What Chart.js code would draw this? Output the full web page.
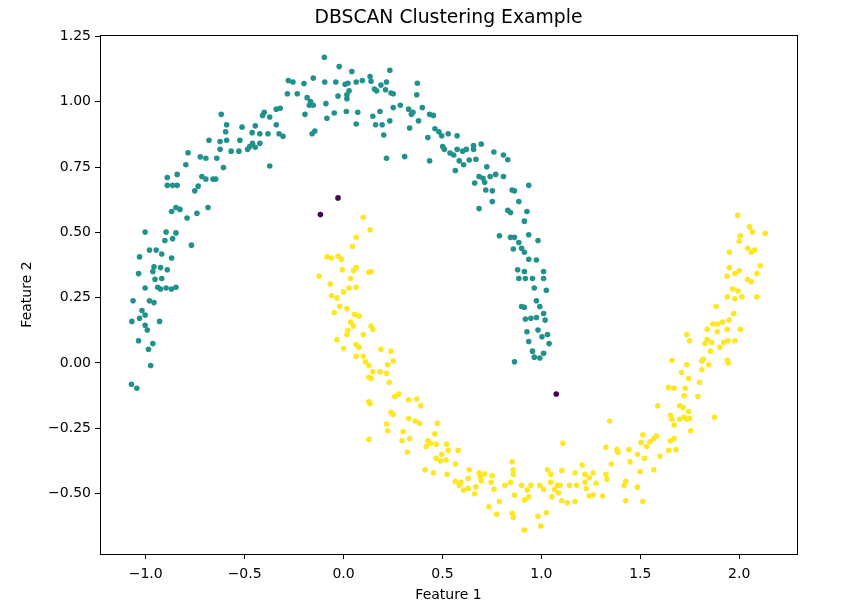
<!DOCTYPE html>
<html>
<head>
<meta charset="utf-8">
<title>DBSCAN Clustering Example</title>
<script src="https://cdn.jsdelivr.net/npm/chart.js@4.4.1/dist/chart.umd.min.js"></script>
<style>
    html, body { margin: 0; padding: 0; background: #fff; }
    #chart { display: block; }
</style>
</head>
<body>
<canvas id="chart" width="865" height="609"></canvas>
<script>
// Cluster 0 (upper moon) as [x, y]
const upperMoon = [
    [-1.072,-0.082],[-1.045,-0.097],[-0.975,-0.010],[-0.986,0.052],[-0.964,0.074],[-1.036,0.085],
    [-0.930,0.159],[-0.992,0.126],[-1.003,0.144],[-1.070,0.159],[-1.031,0.171],[-1.003,0.183],
    [-1.019,0.201],[-1.064,0.238],[-0.981,0.238],[-0.958,0.231],[-1.003,0.287],[-0.939,0.290],
    [-0.925,0.283],[-0.897,0.287],[-0.870,0.283],[-0.847,0.290],[-0.953,0.320],[-0.919,0.323],
    [-0.964,0.350],[-0.958,0.368],[-0.925,0.365],[-0.891,0.357],[-0.869,0.402],[-1.036,0.342],
    [-1.031,0.406],[-0.981,0.432],[-0.947,0.432],[-0.919,0.417],[-0.903,0.469],[-0.864,0.476],
    [-0.847,0.498],[-0.897,0.501],[-1.003,0.501],[-0.769,0.451],[-0.869,0.580],[-0.847,0.595],
    [-0.827,0.588],[-0.791,0.555],[-0.741,0.573],[-0.685,0.595],[-0.752,0.659],[-0.735,0.677],
    [-0.696,0.704],[-0.716,0.714],[-0.891,0.680],[-0.864,0.680],[-0.841,0.680],[-0.891,0.710],
    [-0.841,0.722],[-0.797,0.759],[-0.724,0.789],[-0.696,0.784],[-0.660,0.704],[-0.646,0.704],
    [-0.607,0.748],[-0.641,0.784],[-0.568,0.811],[-0.786,0.805],[-0.680,0.853],[-0.624,0.848],
    [-0.624,0.818],[-0.591,0.853],[-0.524,0.853],[-0.529,0.811],[-0.513,0.903],[-0.485,0.818],
    [-0.474,0.829],[-0.460,0.841],[-0.446,0.826],[-0.423,0.841],[-0.446,0.908],[-0.462,0.882],
    [-0.382,0.878],[-0.373,0.754],[-0.596,0.885],[-0.618,0.952],[-0.591,0.912],[-0.423,0.878],
    [-0.401,0.960],[-0.409,0.948],[-0.373,0.942],[-0.326,0.878],[-0.306,0.868],[-0.340,0.912],
    [-0.340,0.972],[-0.320,0.975],[-0.284,1.031],[-0.279,1.082],[-0.256,1.076],[-0.234,1.031],
    [-0.200,1.070],[-0.184,1.016],[-0.173,0.987],[-0.195,0.952],[-0.167,1.001],[-0.153,0.987],
    [-0.153,1.091],[-0.145,0.888],[-0.159,0.878],[-0.097,1.171],[-0.089,0.993],[-0.084,0.937],
    [-0.095,1.076],[-0.047,0.957],[-0.039,1.076],[-0.028,1.022],[-0.022,1.135],[0.008,1.067],
    [0.017,1.012],[0.017,1.027],[0.022,1.071],[0.028,1.042],[0.014,0.963],[0.042,1.116],
    [0.064,1.076],[0.064,0.915],[0.072,0.960],[0.095,1.082],[0.134,1.097],[0.139,1.079],
    [0.156,1.049],[0.167,1.042],[0.189,1.064],[0.217,1.076],[0.234,1.121],[0.240,1.034],
    [0.251,1.031],[0.212,1.046],[0.148,0.945],[0.162,0.912],[0.184,0.963],[0.195,0.912],
    [0.203,0.873],[0.234,0.927],[0.251,0.978],[0.287,0.987],[0.217,0.784],[0.309,0.790],
    [0.329,0.972],[0.343,0.952],[0.334,0.900],[0.351,0.960],[0.373,1.071],[0.370,1.027],
    [0.379,0.927],[0.398,0.978],[0.435,0.952],[0.454,0.948],[0.426,0.863],[0.435,0.774],
    [0.462,0.897],[0.482,0.885],[0.496,0.870],[0.501,0.829],[0.510,0.818],[0.529,0.878],
    [0.538,0.804],[0.557,0.796],[0.574,0.870],[0.574,0.818],[0.585,0.774],[0.565,0.737],
    [0.602,0.811],[0.607,0.759],[0.621,0.818],[0.635,0.777],[0.657,0.818],[0.657,0.833],
    [0.669,0.780],[0.663,0.689],[0.685,0.714],[0.696,0.838],[0.705,0.707],[0.713,0.692],
    [0.724,0.751],[0.719,0.662],[0.741,0.714],[0.752,0.659],[0.760,0.808],[0.769,0.722],
    [0.808,0.714],[0.808,0.796],[0.830,0.778],[0.685,0.591],[0.752,0.618],[0.788,0.487],
    [0.830,0.585],[0.844,0.576],[0.852,0.662],[0.864,0.659],[0.886,0.618],[0.936,0.680],
    [0.927,0.580],[0.914,0.543],[0.844,0.481],[0.864,0.481],[0.858,0.436],[0.886,0.461],
    [0.900,0.439],[0.914,0.424],[0.936,0.491],[0.983,0.469],[0.936,0.397],[0.975,0.394],
    [0.880,0.357],[0.914,0.350],[0.886,0.323],[0.919,0.323],[0.955,0.323],[1.011,0.350],
    [1.011,0.323],[0.964,0.287],[1.025,0.278],[0.975,0.238],[0.900,0.216],[0.914,0.213],
    [0.992,0.216],[0.919,0.168],[0.947,0.171],[0.975,0.174],[1.011,0.189],[1.019,0.164],
    [0.927,0.119],[0.983,0.126],[1.003,0.100],[1.031,0.109],[1.039,0.074],[0.936,0.082],
    [0.955,0.045],[0.964,0.022],[0.992,0.019],[1.011,0.037],[0.864,0.004]
];

// Cluster 1 (lower moon)
const lowerMoon = [
    [0.100,0.558],[0.134,0.510],[0.064,0.481],[0.045,0.446],[-0.084,0.406],[-0.061,0.402],
    [-0.028,0.409],[-0.011,0.397],[-0.123,0.332],[-0.006,0.357],[0.064,0.365],[0.050,0.353],
    [0.128,0.347],[0.139,0.350],[0.036,0.323],[-0.067,0.302],[0.028,0.287],[0.064,0.290],
    [0.000,0.272],[-0.061,0.257],[-0.033,0.249],[-0.019,0.216],[-0.047,0.193],[0.017,0.208],
    [0.056,0.186],[0.078,0.179],[0.036,0.156],[0.050,0.141],[0.022,0.124],[0.017,0.109],
    [0.139,0.141],[0.148,0.129],[0.100,0.109],[-0.033,0.089],[0.000,0.055],[0.064,0.070],
    [0.078,0.060],[0.064,0.025],[0.100,0.025],[0.111,0.004],[0.128,-0.010],[0.189,0.052],
    [0.240,0.045],[0.251,0.007],[0.223,-0.007],[0.217,-0.040],[0.184,-0.034],[0.148,-0.034],
    [0.128,-0.055],[0.139,-0.060],[0.231,-0.074],[0.128,-0.149],[0.134,-0.156],[0.128,-0.293],
    [0.259,-0.129],[0.279,-0.119],[0.329,-0.141],[0.370,-0.138],[0.390,-0.164],[0.240,-0.189],
    [0.251,-0.198],[0.217,-0.234],[0.223,-0.260],[0.329,-0.213],[0.362,-0.223],[0.384,-0.231],
    [0.474,-0.231],[0.301,-0.263],[0.295,-0.298],[0.334,-0.290],[0.323,-0.342],[0.426,-0.298],
    [0.440,-0.308],[0.418,-0.320],[0.462,-0.272],[0.468,-0.312],[0.521,-0.312],[0.529,-0.335],
    [0.496,-0.350],[0.579,-0.335],[0.468,-0.365],[0.490,-0.376],[0.518,-0.372],[0.412,-0.409],
    [0.454,-0.421],[0.565,-0.387],[0.524,-0.427],[0.565,-0.454],[0.593,-0.457],[0.585,-0.469],
    [0.630,-0.442],[0.630,-0.481],[0.607,-0.487],[0.635,-0.409],[0.663,-0.501],[0.685,-0.421],
    [0.691,-0.436],[0.696,-0.451],[0.713,-0.426],[0.669,-0.475],[0.752,-0.432],[0.746,-0.457],
    [0.760,-0.484],[0.735,-0.551],[0.774,-0.580],[0.788,-0.531],[0.816,-0.469],[0.852,-0.379],
    [0.858,-0.409],[0.858,-0.427],[0.844,-0.457],[0.864,-0.506],[0.852,-0.576],[0.858,-0.591],
    [0.900,-0.469],[0.914,-0.640],[0.928,-0.487],[0.936,-0.513],[0.947,-0.469],[0.914,-0.525],
    [0.983,-0.588],[0.997,-0.625],[0.992,-0.469],[1.011,-0.484],[1.025,-0.573],[1.031,-0.409],
    [1.047,-0.427],[1.047,-0.457],[1.067,-0.484],[1.081,-0.469],[1.053,-0.513],[1.086,-0.498],
    [1.094,-0.469],[1.103,-0.412],[1.109,-0.308],[1.103,-0.528],[1.131,-0.536],[1.170,-0.531],
    [1.142,-0.469],[1.170,-0.421],[1.178,-0.469],[1.206,-0.391],[1.220,-0.427],[1.220,-0.457],
    [1.226,-0.481],[1.242,-0.510],[1.242,-0.439],[1.262,-0.421],[1.276,-0.461],[1.262,-0.506],
    [1.309,-0.510],[1.326,-0.427],[1.331,-0.446],[1.345,-0.223],[1.354,-0.387],[1.326,-0.323],
    [1.382,-0.332],[1.387,-0.342],[1.426,-0.454],[1.418,-0.469],[1.426,-0.528],[1.443,-0.332],
    [1.448,-0.379],[1.485,-0.350],[1.485,-0.476],[1.499,-0.416],[1.504,-0.305],[1.513,-0.531],
    [1.521,-0.365],[1.513,-0.275],[1.532,-0.320],[1.549,-0.302],[1.568,-0.290],[1.568,-0.409],
    [1.582,-0.280],[1.588,-0.164],[1.599,-0.357],[1.643,-0.335],[1.652,-0.298],[1.671,-0.290],
    [1.680,-0.332],[1.652,-0.201],[1.660,-0.216],[1.671,-0.238],[1.660,0.010],[1.671,-0.097],
    [1.643,-0.094],[1.699,-0.164],[1.716,-0.171],[1.699,-0.216],[1.721,-0.208],[1.735,-0.216],
    [1.749,-0.213],[1.755,-0.260],[1.744,-0.186],[1.721,-0.126],[1.727,-0.097],[1.708,-0.037],
    [1.735,-0.007],[1.744,-0.060],[1.749,0.085],[1.735,0.109],[1.791,-0.129],[1.799,-0.074],
    [1.811,-0.025],[1.819,0.015],[1.811,0.007],[1.827,0.074],[1.846,-0.007],[1.855,0.045],
    [1.838,0.089],[1.861,0.079],[1.838,0.129],[1.866,0.149],[1.889,0.149],[1.889,0.119],
    [1.875,-0.208],[1.883,0.216],[1.903,0.060],[1.922,0.079],[1.939,0.010],[1.944,0.000],
    [1.916,0.156],[1.939,0.129],[1.944,0.085],[1.978,0.085],[1.950,0.164],[1.972,0.189],
    [2.006,0.129],[1.939,0.253],[1.967,0.283],[1.994,0.275],[2.014,0.253],[1.978,0.246],
    [1.939,0.332],[1.950,0.365],[1.978,0.342],[2.000,0.353],[2.042,0.320],[2.061,0.311],
    [2.089,0.342],[2.106,0.372],[1.950,0.424],[2.000,0.466],[2.006,0.487],[2.042,0.439],
    [2.061,0.424],[2.078,0.432],[2.053,0.521],[2.067,0.501],[1.992,0.565],[2.131,0.496],
    [2.089,0.253]
];

// Noise points (label -1)
const noisePoints = [[-0.028,0.632],[-0.117,0.568],[1.075,-0.119]];

// viridis colours for labels -1, 0, 1
const clusterColors = ['#440154', '#21918c', '#fde725'];

const xTicks = [-1.0, -0.5, 0.0, 0.5, 1.0, 1.5, 2.0];
const yTicks = [-0.5, -0.25, 0.0, 0.25, 0.5, 0.75, 1.0, 1.25];

const chartTitle = 'DBSCAN Clustering Example';
const FONT = "'DejaVu Sans', sans-serif";

function toXY(arr) {
    return arr.map(p => ({ x: p[0], y: p[1] }));
}

function fmt(v, digits) {
    return v.toFixed(digits).replace('-', '\u2212');
}

// full box around the plot (like matplotlib spines) + title centred over the axes
const frame = {
    id: 'frame',
    afterDraw(chart) {
        const { ctx, chartArea: a } = chart;
        ctx.save();
        ctx.strokeStyle = '#000';
        ctx.lineWidth = 1;
        ctx.strokeRect(Math.round(a.left) + 0.5, Math.round(a.top) + 0.5,
            Math.round(a.right - a.left), Math.round(a.bottom - a.top));

        ctx.fillStyle = '#000';
        ctx.font = '18.8px ' + FONT;
        ctx.textAlign = 'center';
        ctx.textBaseline = 'middle';
        ctx.fillText(chartTitle, (a.left + a.right) / 2, 18);
        ctx.restore();
    }
};

const pointStyle = color => ({
    backgroundColor: color,
    borderWidth: 0,
    pointRadius: 2.8,
    pointHoverRadius: 2.8
});

new Chart(document.getElementById('chart'), {
    type: 'scatter',
    data: {
        datasets: [
            { label: 'noise', data: toXY(noisePoints), ...pointStyle(clusterColors[0]) },
            { label: 'cluster 0', data: toXY(upperMoon), ...pointStyle(clusterColors[1]) },
            { label: 'cluster 1', data: toXY(lowerMoon), ...pointStyle(clusterColors[2]) }
        ]
    },
    options: {
        responsive: false,
        animation: false,
        layout: { padding: { left: 0, right: 68, top: 35, bottom: 0 } },
        plugins: {
            legend: { display: false },
            tooltip: { enabled: false },
            title: { display: false }
        },
        scales: {
            x: {
                type: 'linear',
                min: -1.231,
                max: 2.292,
                afterFit: s => { s.height = 55; },
                afterBuildTicks: s => { s.ticks = xTicks.map(v => ({ value: v })); },
                ticks: {
                    color: '#000',
                    font: { family: FONT, size: 14 },
                    padding: 7,
                    maxRotation: 0,
                    callback: v => fmt(v, 1)
                },
                grid: { drawOnChartArea: false, drawTicks: true, tickLength: 5, color: '#000' },
                border: { display: true, color: '#000', width: 1 },
                title: {
                    display: true,
                    text: 'Feature 1',
                    color: '#000',
                    font: { family: FONT, size: 14 },
                    padding: { top: 0, bottom: 5.2 }
                }
            },
            y: {
                type: 'linear',
                min: -0.732,
                max: 1.256,
                afterFit: s => { s.width = 100; },
                afterBuildTicks: s => { s.ticks = yTicks.map(v => ({ value: v })); },
                ticks: {
                    color: '#000',
                    font: { family: FONT, size: 14 },
                    padding: 4,
                    callback: v => fmt(v, 2)
                },
                grid: { drawOnChartArea: false, drawTicks: true, tickLength: 5, color: '#000' },
                border: { display: true, color: '#000', width: 1 },
                title: {
                    display: true,
                    text: 'Feature 2',
                    color: '#000',
                    font: { family: FONT, size: 14 },
                    padding: { top: 18.6, bottom: 0 }
                }
            }
        }
    },
    plugins: [frame]
});
</script>
</body>
</html>
